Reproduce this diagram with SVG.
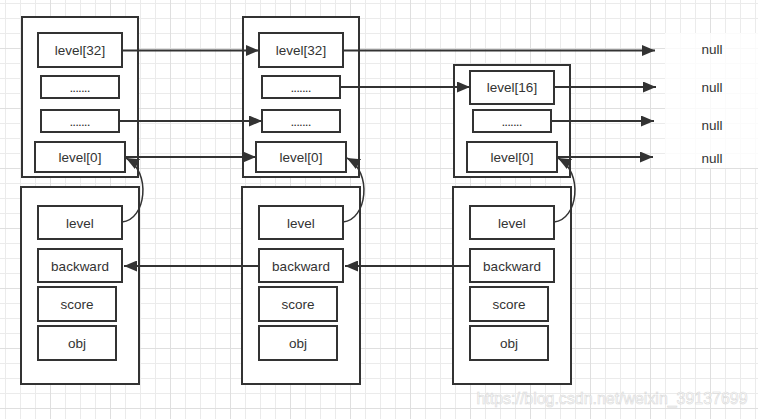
<svg xmlns="http://www.w3.org/2000/svg" width="758" height="419" viewBox="0 0 758 419">
<style>
.box{fill:#fff;stroke:#333;stroke-width:2}
.t{font-family:"Liberation Sans",Arial,sans-serif;font-size:13.5px;fill:#333;text-anchor:middle;dominant-baseline:central}
.e{fill:none;stroke:#333;stroke-width:2}
.c{fill:none;stroke:#333;stroke-width:1.5}
</style>
<defs>
<pattern id="gmin" width="15" height="15" patternUnits="userSpaceOnUse" x="5" y="3">
<path d="M0 0.5H15M0.5 0V15" stroke="#ebebeb" stroke-width="1" fill="none"/>
</pattern>
<pattern id="gmaj" width="60" height="60" patternUnits="userSpaceOnUse" x="50" y="48">
<path d="M0 0.5H60M0.5 0V60" stroke="#dfdfdf" stroke-width="1" fill="none"/>
</pattern>
<marker id="ah" markerUnits="userSpaceOnUse" markerWidth="14" markerHeight="11" refX="13" refY="5.5" orient="auto">
<path d="M0,0 L13,5.5 L0,11 Z" fill="#333"/>
</marker>
</defs>
<rect width="758" height="419" fill="#fff"/>
<rect width="758" height="419" fill="url(#gmin)"/>
<rect width="758" height="419" fill="url(#gmaj)"/>
<rect x="665" y="33" width="93" height="135" fill="#fff" opacity="0.8"/>

<g id="node1-levels">
<rect class="box" x="22" y="17" width="116" height="160"/>
<rect class="box" x="38" y="33" width="84" height="34"/><text class="t" x="80" y="50">level[32]</text>
<rect class="box" x="41" y="76" width="78" height="22"/><text class="t" x="80" y="87" textLength="21">.......</text>
<rect class="box" x="41" y="110" width="78" height="22"/><text class="t" x="80" y="121" textLength="21">.......</text>
<rect class="box" x="35" y="142" width="90" height="30"/><text class="t" x="80" y="157">level[0]</text>
</g>
<g id="node1-fields">
<rect class="box" x="21" y="187" width="118" height="197"/>
<rect class="box" x="38" y="206" width="84" height="33"/><text class="t" x="80" y="223">level</text>
<rect class="box" x="38" y="249" width="84" height="33"/><text class="t" x="80" y="266">backward</text>
<rect class="box" x="38" y="287" width="78" height="34"/><text class="t" x="77" y="304">score</text>
<rect class="box" x="38" y="326" width="78" height="34"/><text class="t" x="77" y="343">obj</text>
</g>

<g id="node2-levels">
<rect class="box" x="243" y="17" width="116" height="160"/>
<rect class="box" x="259" y="33" width="84" height="34"/><text class="t" x="301" y="50">level[32]</text>
<rect class="box" x="262" y="76" width="78" height="22"/><text class="t" x="301" y="87" textLength="21">.......</text>
<rect class="box" x="262" y="110" width="78" height="22"/><text class="t" x="301" y="121" textLength="21">.......</text>
<rect class="box" x="256" y="142" width="90" height="30"/><text class="t" x="301" y="157">level[0]</text>
</g>
<g id="node2-fields">
<rect class="box" x="242" y="187" width="118" height="197"/>
<rect class="box" x="259" y="206" width="84" height="33"/><text class="t" x="301" y="223">level</text>
<rect class="box" x="259" y="249" width="84" height="33"/><text class="t" x="301" y="266">backward</text>
<rect class="box" x="259" y="287" width="78" height="34"/><text class="t" x="298" y="304">score</text>
<rect class="box" x="259" y="326" width="78" height="34"/><text class="t" x="298" y="343">obj</text>
</g>

<g id="node3-levels">
<rect class="box" x="454" y="65" width="116" height="112"/>
<rect class="box" x="470" y="71" width="84" height="33"/><text class="t" x="512" y="87">level[16]</text>
<rect class="box" x="473" y="110" width="78" height="22"/><text class="t" x="512" y="121" textLength="21">.......</text>
<rect class="box" x="467" y="142" width="90" height="30"/><text class="t" x="512" y="157">level[0]</text>
</g>
<g id="node3-fields">
<rect class="box" x="453" y="187" width="118" height="197"/>
<rect class="box" x="470" y="206" width="84" height="33"/><text class="t" x="512" y="223">level</text>
<rect class="box" x="470" y="249" width="84" height="33"/><text class="t" x="512" y="266">backward</text>
<rect class="box" x="470" y="287" width="78" height="34"/><text class="t" x="509" y="304">score</text>
<rect class="box" x="470" y="326" width="78" height="34"/><text class="t" x="509" y="343">obj</text>
</g>

<g id="null-labels">
<text class="t" x="712" y="49">null</text>
<text class="t" x="712" y="87">null</text>
<text class="t" x="712" y="125">null</text>
<text class="t" x="712" y="158">null</text>
</g>

<g id="connectors">
<path class="e" d="M122,50.5H259" marker-end="url(#ah)"/>
<path class="e" d="M343,50.5H655" marker-end="url(#ah)"/>
<path class="e" d="M340,87H470" marker-end="url(#ah)"/>
<path class="e" d="M554,87H656" marker-end="url(#ah)"/>
<path class="e" d="M119,121H262" marker-end="url(#ah)"/>
<path class="e" d="M551,121H654" marker-end="url(#ah)"/>
<path class="e" d="M125,157H256" marker-end="url(#ah)"/>
<path class="e" d="M557,157H653" marker-end="url(#ah)"/>
<path class="e" d="M259,266H124" marker-end="url(#ah)"/>
<path class="e" d="M470,266H345" marker-end="url(#ah)"/>
<path class="c" d="M122,222 C146,220 152,172 126,158" marker-end="url(#ah)"/>
<path class="c" d="M343,222 C367,220 373,172 347,158" marker-end="url(#ah)"/>
<path class="c" d="M554,222 C578,220 584,172 558,158" marker-end="url(#ah)"/>
</g>

<text x="612" y="404" font-family="'Liberation Sans',Arial,sans-serif" font-size="16" text-anchor="middle" textLength="271" lengthAdjust="spacingAndGlyphs" fill="#fff" stroke="#d2d2d2" stroke-width="0.6" opacity="0.85">https://blog.csdn.net/weixin_39137699</text>
</svg>
